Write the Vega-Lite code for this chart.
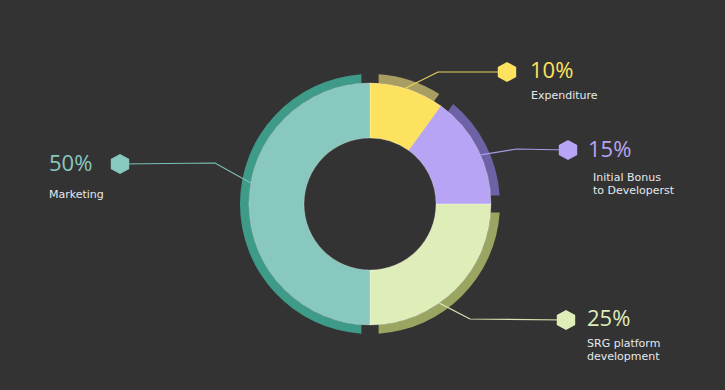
{
  "$schema": "https://vega.github.io/schema/vega-lite/v6.json",
  "width": 725,
  "height": 390,
  "autosize": {"type": "fit", "contains": "padding"},
  "padding": {"left": 15, "top": 18, "right": 0, "bottom": 0},
  "background": "#333333",
  "config": {"view": {"stroke": null}},
  "datasets": {
    "slices": [
      {"name": "Expenditure", "value": 10},
      {"name": "Initial Bonus", "value": 15},
      {"name": "SRG platform", "value": 25},
      {"name": "Marketing", "value": 50}
    ],
    "leaders": [
      {"name": "Expenditure", "seq": 1, "x": 35.4, "y": 115.7},
      {"name": "Expenditure", "seq": 2, "x": 68, "y": 132},
      {"name": "Expenditure", "seq": 3, "x": 137, "y": 132},
      {"name": "Initial Bonus", "seq": 1, "x": 110.5, "y": 49.2},
      {"name": "Initial Bonus", "seq": 2, "x": 147, "y": 55},
      {"name": "Initial Bonus", "seq": 3, "x": 198, "y": 54},
      {"name": "SRG platform", "seq": 1, "x": 69.4, "y": -99.1},
      {"name": "SRG platform", "seq": 2, "x": 100, "y": -115},
      {"name": "SRG platform", "seq": 3, "x": 196, "y": -116},
      {"name": "Marketing", "seq": 1, "x": -119.2, "y": 21},
      {"name": "Marketing", "seq": 2, "x": -155, "y": 41},
      {"name": "Marketing", "seq": 3, "x": -250, "y": 40}
    ],
    "labels": [
      {"name": "Expenditure", "pct": "10%", "text": "Expenditure", "hx": 137, "hy": 132, "px": 160, "py": 133, "tx": 161, "ty": 114},
      {"name": "Initial Bonus", "pct": "15%", "text": "Initial Bonus\nto Developerst", "hx": 198, "hy": 54, "px": 218, "py": 54.5, "tx": 223, "ty": 32},
      {"name": "SRG platform", "pct": "25%", "text": "SRG platform\ndevelopment", "hx": 196, "hy": -116, "px": 217, "py": -115, "tx": 217, "ty": -134},
      {"name": "Marketing", "pct": "50%", "text": "Marketing", "hx": -250, "hy": 40, "px": -321, "py": 40.5, "tx": -321, "ty": 15}
    ]
  },
  "layer": [
    {
      "data": {"name": "slices"},
      "mark": {"type": "arc", "padAngle": 0.097, "radius": 121, "radius2": 130},
      "encoding": {
        "theta": {"field": "value", "type": "quantitative", "stack": true},
        "order": {"field": "value", "type": "quantitative", "sort": "ascending"},
        "fill": {"field": "name", "type": "nominal", "legend": null,
          "scale": {"domain": ["Expenditure", "Initial Bonus", "SRG platform", "Marketing"], "range": ["#A89E62", "#6E62A6", "#9AA562", "#3D9B88"]}}
      }
    },
    {
      "data": {"name": "slices"},
      "mark": {"type": "arc", "radius": 121, "radius2": 66, "stroke": "#ffffff", "strokeOpacity": 0.25, "strokeWidth": 1},
      "encoding": {
        "theta": {"field": "value", "type": "quantitative", "stack": true},
        "order": {"field": "value", "type": "quantitative", "sort": "ascending"},
        "color": {"field": "name", "type": "nominal", "legend": null,
          "scale": {"domain": ["Expenditure", "Initial Bonus", "SRG platform", "Marketing"], "range": ["#FCE25E", "#B8A4F4", "#DFEDB9", "#88C8BE"]}}
      }
    },
    {
      "data": {"name": "leaders"},
      "mark": {"type": "line", "strokeWidth": 1.2},
      "encoding": {
        "x": {"field": "x", "type": "quantitative", "axis": null, "scale": {"domain": [-355, 355], "nice": false, "zero": false}},
        "y": {"field": "y", "type": "quantitative", "axis": null, "scale": {"domain": [-186, 186], "nice": false, "zero": false}},
        "detail": {"field": "name", "type": "nominal"},
        "order": {"field": "seq", "type": "quantitative"},
        "stroke": {"field": "name", "type": "nominal", "legend": null,
          "scale": {"domain": ["Expenditure", "Initial Bonus", "SRG platform", "Marketing"], "range": ["#E9D35B", "#A99BE5", "#D6E2B0", "#7CBFB4"]}}
      }
    },
    {
      "data": {"name": "labels"},
      "mark": {"type": "point", "shape": "M0,-1L0.92,-0.5L0.92,0.5L0,1L-0.92,0.5L-0.92,-0.5Z", "filled": true, "opacity": 1, "size": 400},
      "encoding": {
        "x": {"field": "hx", "type": "quantitative", "axis": null, "scale": {"domain": [-355, 355], "nice": false, "zero": false}},
        "y": {"field": "hy", "type": "quantitative", "axis": null, "scale": {"domain": [-186, 186], "nice": false, "zero": false}},
        "color": {"field": "name", "type": "nominal", "legend": null,
          "scale": {"domain": ["Expenditure", "Initial Bonus", "SRG platform", "Marketing"], "range": ["#FCE25E", "#B8A4F4", "#DFEDB9", "#88C8BE"]}}
      }
    },
    {
      "data": {"name": "labels"},
      "mark": {"type": "text", "align": "left", "baseline": "middle", "fontSize": 22, "font": "Open Sans", "fontWeight": 400},
      "encoding": {
        "x": {"field": "px", "type": "quantitative", "axis": null, "scale": {"domain": [-355, 355], "nice": false, "zero": false}},
        "y": {"field": "py", "type": "quantitative", "axis": null, "scale": {"domain": [-186, 186], "nice": false, "zero": false}},
        "text": {"field": "pct", "type": "nominal"},
        "color": {"field": "name", "type": "nominal", "legend": null,
          "scale": {"domain": ["Expenditure", "Initial Bonus", "SRG platform", "Marketing"], "range": ["#FCE25E", "#B8A4F4", "#DFEDB9", "#88C8BE"]}}
      }
    },
    {
      "data": {"name": "labels"},
      "mark": {"type": "text", "align": "left", "baseline": "top", "fontSize": 11, "font": "DejaVu Sans", "lineBreak": "\n", "lineHeight": 13, "color": "#E4E8EC"},
      "encoding": {
        "x": {"field": "tx", "type": "quantitative", "axis": null, "scale": {"domain": [-355, 355], "nice": false, "zero": false}},
        "y": {"field": "ty", "type": "quantitative", "axis": null, "scale": {"domain": [-186, 186], "nice": false, "zero": false}},
        "text": {"field": "text", "type": "nominal"}
      }
    }
  ]
}
